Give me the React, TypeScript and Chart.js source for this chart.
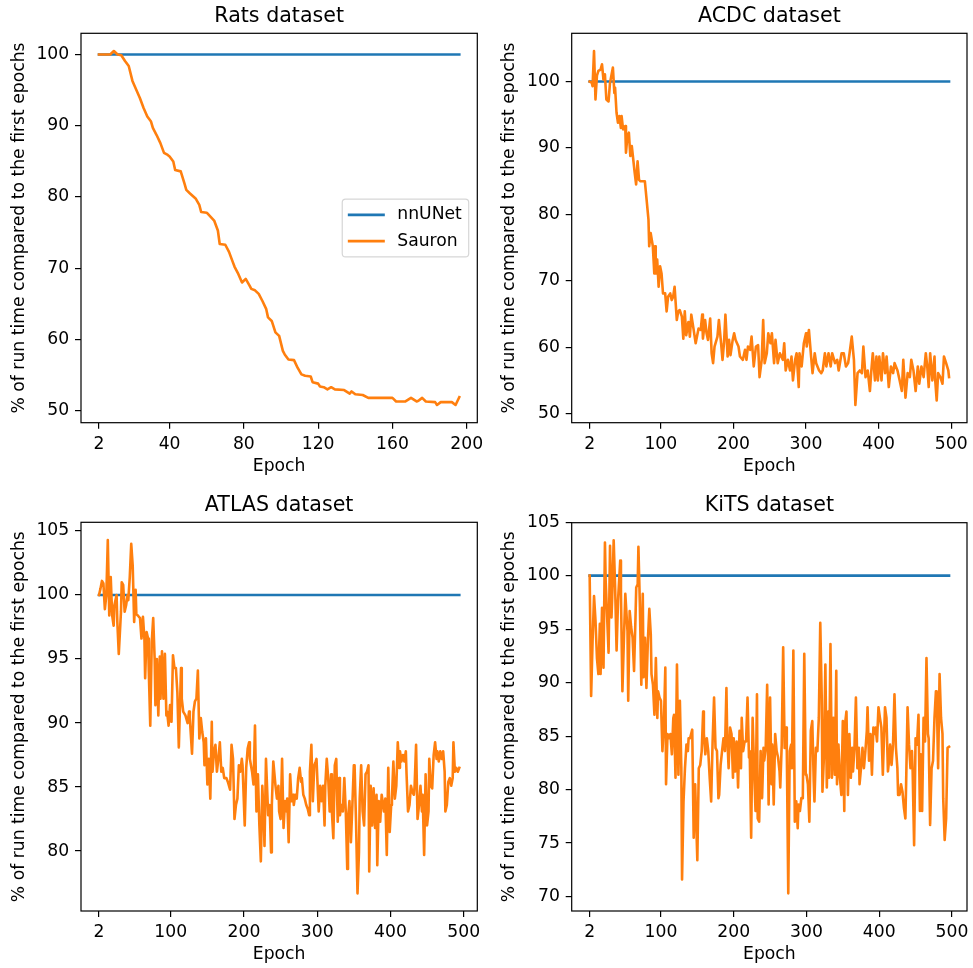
import React, { useEffect, useRef } from "react";
import { Chart, registerables } from "chart.js";

Chart.register(...registerables);

const FONT_FAMILY = "'DejaVu Sans', 'Liberation Sans', sans-serif";
const BLUE = "#1f77b4";
const ORANGE = "#ff7f0e";

// ---------- data ----------
const nnunetLevel = [100, 100];

const ratsEpochs = [2,8,10,12,14,16,18,20,22,24,26,28,30,31,33,35,37,39,40,42,43,46,48,49,51,54,56,57,60,64,66,67,70,72,74,75,77,79,81,83,84,86,88,90,92,93,95,97,99,101,102,104,107,109,111,113,116,117,120,121,123,125,127,129,134,137,138,140,144,147,160,162,167,170,173,174,176,178,183,184,186,192,194,196];
const ratsSauron = [100,100,100.5,100,99.9,99.1,98.4,96.3,95.1,93.9,92.5,91.3,90.6,89.7,88.7,87.6,86.2,85.9,85.7,85,83.8,83.6,81.9,81,80.5,79.8,78.9,77.9,77.8,76.7,75.3,73.4,73.3,72.3,70.9,70.2,69.2,68,68.5,67.6,67.1,66.9,66.4,65.4,64.3,63.1,62.6,61,60.5,58.4,57.9,57.2,57.1,56,55.1,54.9,54.8,54,53.8,53.4,53.3,53,53.3,53,52.9,52.4,52.7,52.3,52.2,51.8,51.8,51.3,51.3,51.8,51.3,51.4,51.8,51.3,51.2,50.8,51.2,51.2,50.8,51.9];
const ratsXTicks = [2, 40, 80, 120, 160, 200];
const ratsYTicks = [50, 60, 70, 80, 90, 100];

const acdcEpochs = [2,5,6,8,10,12,14,17,19,21,23,25,28,30,34,36,37,39,41,43,45,46,48,51,52,54,56,58,60,62,64,66,68,70,72,75,78,80,83,84,86,89,91,92,93,95,97,99,101,103,106,108,110,113,115,117,119,122,124,126,129,131,133,135,138,140,142,145,148,152,155,157,158,161,163,165,168,170,172,174,178,180,183,185,187,189,192,194,196,199,201,203,207,209,213,216,218,220,223,225,228,231,234,236,239,241,243,246,248,251,253,256,258,261,264,268,270,272,275,278,280,282,285,287,290,291,294,297,300,301,304,307,309,312,314,318,321,323,326,328,331,334,336,340,343,345,349,352,355,358,360,363,366,368,371,374,377,379,382,385,388,390,392,395,397,399,401,404,406,409,411,414,417,420,422,426,429,432,434,437,440,443,445,448,451,454,456,459,462,465,467,469,471,474,477,478,480,482,485,488,490,493,496,497];
const acdcSauron = [100,99.8,99.3,104.6,97.3,100.9,101.6,101.8,102.6,100.3,101.1,97.3,97,99.8,102.1,98.3,99.1,95.3,93.8,94.8,93,94.8,92.8,93.3,89.3,91.8,92.3,88.8,90.3,88.3,86.3,84.5,88,85.2,85,85,85,82.7,79.2,75.2,77.2,75.2,71.1,75.2,71.1,73.2,69.1,72.2,71.1,68.1,68.1,65.4,67.6,68.1,67.1,67.6,69.1,64.1,65.4,65.6,64.6,61.3,65.4,61.8,63.8,61.6,64.9,62.8,60.6,62.8,62.6,64.9,61.3,64.1,62.1,61.1,64.3,59.1,57.6,60.1,61.6,64.1,60.6,58.1,60.6,64.9,58.6,61.1,58.8,61.1,62.1,61.1,60.1,58.6,58.1,59.6,58.1,60.1,59.6,61.6,57.1,60.1,60.3,55.5,58.1,64.1,57.6,59.1,62.1,60.6,62.1,57.6,61.1,57.6,59.1,58.1,60.6,56.5,58.1,56.5,58.6,55,58.1,59.1,54,59.1,57.1,60.6,62.1,60.1,62.6,58.6,56.1,59.1,57.6,56.5,56.1,56.5,59.1,57.1,59.1,57.1,59.1,57.6,58.1,56.5,59.1,59.1,57.1,57.6,59.1,61.6,58.1,51.3,56.1,56.5,56.1,60.1,55.5,56.5,53.4,56.5,59.1,55,58.6,55,58.6,55,59.1,56.1,58.6,54,57.1,56.1,57.6,56.5,55,53.4,58.1,52.4,56.1,55.5,58.1,56.5,53.4,57.1,54.5,57.1,55.5,59.1,57.1,54,59.1,55,58.6,55,52,56.1,55.5,54.5,58.6,57.6,56.5,55.5];
const acdcXTicks = [2, 100, 200, 300, 400, 500];
const acdcYTicks = [50, 60, 70, 80, 90, 100];

const atlasEpochs = [2,4,6,8,10,12,14,16,18,20,22,23,26,27,29,32,33,35,37,39,41,42,44,46,48,50,52,53,55,58,60,62,64,65,67,69,70,72,74,76,78,79,81,83,85,86,88,90,92,94,95,97,99,101,103,105,107,109,111,114,115,117,120,123,125,126,129,131,133,135,137,139,141,143,145,146,148,150,152,154,156,157,159,161,163,165,167,169,171,173,176,178,181,183,185,187,189,191,193,195,197,198,201,203,205,207,208,211,213,215,217,219,221,223,225,227,228,230,233,235,237,238,240,243,245,247,248,250,252,254,256,258,259,261,263,265,267,268,270,272,274,276,278,279,281,283,285,287,289,290,292,294,296,298,299,302,304,306,308,310,311,313,315,317,319,320,322,324,326,328,330,331,333,335,337,339,341,342,344,346,348,350,351,353,355,357,358,360,362,364,366,368,370,371,373,375,377,379,381,382,384,386,388,390,391,393,395,397,399,401,402,404,406,408,410,412,413,415,417,419,421,422,424,426,428,430,432,433,435,437,439,441,443,444,446,448,450,452,453,455,457,459,461,463,464,466,468,470,472,474,475,477,479,481,483,485,486,488,490,492,494];
const atlasSauron = [100,100.5,101.1,100.9,98.9,100,104.3,98.4,101.4,98.4,97.6,99.2,100,97.9,95.4,98.7,101,100.8,98.7,99.2,100,99.6,101.4,104,102.3,97.9,100.4,98.5,98.4,98.2,96.6,98.3,96.6,93.5,97.1,96.6,94,89.8,96.3,98.2,95,91.4,95,90.6,95.2,91.9,95.6,91.9,95.4,90.6,90.9,89.8,91.4,90.1,95.3,94.3,94.3,92.4,88.1,94.3,91.9,90.9,90.6,90,90.9,90.4,87.6,90.9,91.7,91.9,94.1,88.8,90.4,89.3,88.5,86.7,88.8,85.2,87.2,84.1,90.1,86.2,87.8,88.3,86.2,87.2,88.5,86.2,86.5,85.7,85.7,85.4,84.8,88.3,87.2,82.5,83.6,84.1,86.7,86.2,87.2,86.7,82,86.5,88,88.5,87.2,86.2,85.2,89.8,83.1,86,82,79.2,85.1,82.5,80.4,87.2,82.8,83.6,79.9,83.6,87,85.1,84.1,85.1,83.1,82.5,87.2,81.8,83.9,83.1,84.1,80.7,86,83.9,84.4,83.6,84.4,84.1,85.7,86.5,85.4,85.7,84.4,84.1,83.6,83.3,82.8,86.2,88.3,83.9,86.7,87,87.2,83.1,85.1,83.9,85.1,82,85.1,87.2,85.7,83.1,86,83.1,81,86.7,87.2,82.3,85.7,82.8,83.6,83.1,85.7,83.1,78.6,82.5,83.9,80.7,83.6,86.7,86.7,82.3,76.7,79.9,84.1,86.7,83.1,82,86,86.2,86.7,78.4,85.1,82,84.9,81.8,84.4,78.9,83.9,82.3,84.4,83.6,83.1,84.1,79.7,86.5,81.5,83.6,84.1,87,84.1,85.1,88.5,86.5,87.8,87,87.5,87,87.8,86,83.1,83.6,85.1,84.6,84.4,85.1,88.3,82.5,83.6,85.1,83.1,84.4,79.7,86,82,83.1,87.2,85.1,84.9,87.5,88.5,87.2,87.8,87,87.8,87.2,87.8,86.2,83.1,83.6,85.4,85.7,85.1,85.7,88.5,86.2,86.5,86.2,86.5];
const atlasXTicks = [2, 100, 200, 300, 400, 500];
const atlasYTicks = [80, 85, 90, 95, 100, 105];

const kitsEpochs = [2,4,6,8,10,12,14,16,17,19,21,23,24,28,30,32,33,35,37,39,41,44,45,47,49,51,54,55,57,59,61,63,65,66,68,69,71,73,75,76,78,80,82,84,86,87,89,91,93,95,96,98,100,102,104,106,107,109,111,113,115,117,118,120,122,124,126,128,129,131,133,135,137,138,140,143,145,147,148,150,152,154,156,158,159,161,163,165,167,169,171,173,175,177,179,180,182,184,186,188,190,191,193,195,197,199,200,202,204,206,208,210,211,213,215,217,219,221,222,224,226,228,230,232,233,235,237,239,241,242,244,246,248,250,252,253,255,257,259,261,263,264,266,268,270,272,273,275,277,279,280,282,284,286,288,289,291,293,295,297,299,300,302,304,306,308,310,311,313,315,317,319,321,322,324,326,328,330,331,333,335,337,339,341,342,344,346,348,350,352,353,355,357,359,361,363,364,366,368,370,372,373,375,377,379,381,383,384,386,388,390,392,394,395,397,399,401,403,405,406,408,410,412,414,415,417,419,421,423,425,426,428,430,432,434,436,437,439,441,443,445,446,448,450,452,454,456,457,459,461,463,465,467,468,470,472,474,476,478,479,481,483,485,487,488,490,492,494,496];
const kitsSauron = [100,88.75,93.9,98.1,95.8,92.3,90.8,95.5,90.8,97,91.4,103.1,99.5,92.8,102.8,96.1,98,103.3,98.9,93,97.7,101.4,98.3,89.2,93.9,98.3,94.8,88.3,96.7,95.2,94.2,91.1,96.1,98.9,99.2,102.7,97.3,89.8,98.3,90.5,94.2,89.5,93.9,96.9,94.5,90.8,89.8,87,92.3,86.7,89.2,88.6,88.3,83.6,86.1,91.4,80.5,85.2,84.8,85.2,83.3,86.7,87,81.1,91.7,81.4,88.3,82,71.6,78.9,82,84.2,83.6,84.8,84.8,85.6,75.5,80.5,80.5,73.4,82,82.3,83.6,87.3,85.2,83.3,84.8,83.6,81.1,78.9,84.5,88.6,83.9,83.6,79.2,79.5,82.3,83.6,84.8,83.6,89.5,85.2,82,85.8,85.2,81.1,84.8,81.7,84.5,80.2,85.5,82,86.7,83.6,84.5,84.5,88.6,83,83.6,75.5,86.7,82,78,88.9,77.3,77,83.6,79.2,83.9,82.7,83.9,89.8,78.6,88.6,80.5,84.2,78.6,85.2,83.6,83,81.7,80.2,84.2,93.3,83.9,85.8,83.6,70.3,83.6,84.2,82,93,77,78.9,76.4,78.6,78,79.2,79.2,92.7,81.4,81.4,80.5,77,85.5,86.4,80.8,78.9,83.9,83.6,86.7,95.6,88.6,79.8,83,91.7,80.2,87.3,81.1,93.6,81.1,86.7,81.4,91.1,80.5,84.2,81.1,79.5,86.4,78,86.1,87.3,79.5,85.2,81.1,83.9,81.7,83.9,88.6,82,83.9,80.5,82,83.9,82,83.6,85.5,87.7,82.7,85.2,81.4,85.8,85.2,85.8,84.5,87.7,86.7,85.8,81.4,83.6,87.7,86.7,81.7,83,84.2,82.3,84.2,88.9,83.9,82,79.5,79.5,80.5,79.8,78.3,77.3,80.5,87.7,84.2,82,83.6,81.7,74.8,84.8,84.2,87,78,83.3,78,86.7,84.5,92.3,85.2,84.8,76.7,82,82.7,86.7,89.2,89.2,82,90.8,86.7,85.2,79.2,75.3,77.3,83.9,84];
const kitsXTicks = [2, 100, 200, 300, 400, 500];
const kitsYTicks = [70, 75, 80, 85, 90, 95, 100, 105];

const seriesNames = ["nnUNet", "Sauron"];
const xLabel = "Epoch";
const yLabel = "% of run time compared to the first epochs";

// ---------- layout (positions / styles) ----------
type Area = { l: number; r: number; t: number; b: number };
type PanelDef = {
  title: string;
  epochs: number[];
  sauron: number[];
  xTicks: number[];
  yTicks: number[];
  legend: boolean;
  left: number;
  top: number;
  w: number;
  h: number;
  area: Area;
  titleMid: number;
  yTitleMid: number;
  xTitleMid: number;
};

const panels: PanelDef[] = [
  { title: "Rats dataset", epochs: ratsEpochs, sauron: ratsSauron, xTicks: ratsXTicks, yTicks: ratsYTicks, legend: true,
    left: 0, top: 0, w: 486, h: 484, area: { l: 81, r: 477.3, t: 33.3, b: 422.7 }, titleMid: 16.5, yTitleMid: 20, xTitleMid: 466.5 },
  { title: "ACDC dataset", epochs: acdcEpochs, sauron: acdcSauron, xTicks: acdcXTicks, yTicks: acdcYTicks, legend: false,
    left: 486, top: 0, w: 487, h: 484, area: { l: 85.7, r: 481, t: 33.3, b: 422.7 }, titleMid: 16.5, yTitleMid: 23.7, xTitleMid: 466.5 },
  { title: "ATLAS dataset", epochs: atlasEpochs, sauron: atlasSauron, xTicks: atlasXTicks, yTicks: atlasYTicks, legend: false,
    left: 0, top: 484, w: 486, h: 484, area: { l: 81, r: 477.3, t: 38.3, b: 427 }, titleMid: 21.3, yTitleMid: 20, xTitleMid: 470.5 },
  { title: "KiTS dataset", epochs: kitsEpochs, sauron: kitsSauron, xTicks: kitsXTicks, yTicks: kitsYTicks, legend: false,
    left: 486, top: 484, w: 487, h: 484, area: { l: 85.7, r: 481, t: 38.7, b: 427 }, titleMid: 21.3, yTitleMid: 24, xTitleMid: 470.5 },
];

const TICK_FS = 17.2;
const TITLE_FS = 20.6;
const LINE_W = 2.6;
const SPINE_W = 1.2;
const TICK_LEN = 6;
const TICK_PAD = 5.8;

function autoLimits(values: number[]): [number, number] {
  const lo = Math.min(...values);
  const hi = Math.max(...values);
  const m = (hi - lo) * 0.05;
  return [lo - m, hi + m];
}

const framePlugin = {
  id: "mplFrame",
  afterDraw(chart: any) {
    const { ctx, chartArea: a } = chart;
    ctx.save();
    ctx.strokeStyle = "#000";
    ctx.lineWidth = SPINE_W;
    ctx.strokeRect(a.left, a.top, a.right - a.left, a.bottom - a.top);
    ctx.restore();
  },
};

const legendPlugin = {
  id: "mplLegend",
  afterDraw(chart: any, _args: any, opts: any) {
    if (!opts || !opts.display) return;
    const { ctx, chartArea: a } = chart;
    const fs = TICK_FS;
    ctx.save();
    ctx.font = `${fs}px ${FONT_FAMILY}`;
    const ds = chart.data.datasets;
    const tw = Math.max(...ds.map((d: any) => ctx.measureText(d.label).width));
    const pad = 0.4 * fs;
    const hl = 2 * fs;
    const tp = 0.8 * fs;
    const ls = 0.5 * fs;
    const rowH = 1.03 * fs;
    const w = 2 * pad + hl + tp + tw;
    const h = 2 * pad + ds.length * rowH + (ds.length - 1) * ls;
    const x = a.right - 0.5 * fs - w;
    const y = (a.top + a.bottom) / 2 - h / 2;
    const r = 0.2 * fs;
    ctx.beginPath();
    ctx.moveTo(x + r, y);
    ctx.lineTo(x + w - r, y);
    ctx.arcTo(x + w, y, x + w, y + r, r);
    ctx.lineTo(x + w, y + h - r);
    ctx.arcTo(x + w, y + h, x + w - r, y + h, r);
    ctx.lineTo(x + r, y + h);
    ctx.arcTo(x, y + h, x, y + h - r, r);
    ctx.lineTo(x, y + r);
    ctx.arcTo(x, y, x + r, y, r);
    ctx.closePath();
    ctx.fillStyle = "rgba(255,255,255,0.8)";
    ctx.fill();
    ctx.strokeStyle = "rgba(204,204,204,0.8)";
    ctx.lineWidth = SPINE_W;
    ctx.stroke();
    ds.forEach((d: any, i: number) => {
      const cy = y + pad + rowH / 2 + i * (rowH + ls);
      ctx.beginPath();
      ctx.strokeStyle = d.borderColor;
      ctx.lineWidth = LINE_W;
      ctx.lineCap = "square";
      ctx.moveTo(x + pad, cy);
      ctx.lineTo(x + pad + hl, cy);
      ctx.stroke();
      ctx.fillStyle = "#000";
      ctx.textAlign = "left";
      ctx.textBaseline = "middle";
      ctx.fillText(d.label, x + pad + hl + tp, cy);
    });
    ctx.restore();
  },
};

function Panel({ p }: { p: PanelDef }) {
  const ref = useRef<HTMLCanvasElement | null>(null);
  useEffect(() => {
    if (!ref.current) return;
    const first = p.epochs[0];
    const last = p.epochs[p.epochs.length - 1];
    const nnData = [first, last].map((e, i) => ({ x: e, y: nnunetLevel[i] }));
    const saData = p.epochs.map((e, i) => ({ x: e, y: p.sauron[i] }));
    const [xmin, xmax] = autoLimits(p.epochs);
    const [ymin, ymax] = autoLimits([...p.sauron, ...nnunetLevel]);
    const tickFont = { family: FONT_FAMILY, size: TICK_FS, weight: "normal" as const, lineHeight: 1.2 };
    const a = p.area;
    const titleHalf = (TITLE_FS * 1.2) / 2;
    const labelHalf = (TICK_FS * 1.2) / 2;

    const chart = new Chart(ref.current, {
      type: "line",
      data: {
        datasets: [
          { label: seriesNames[0], data: nnData, borderColor: BLUE, backgroundColor: BLUE, borderWidth: LINE_W, pointRadius: 0, tension: 0, order: 1, borderCapStyle: "square", borderJoinStyle: "round" },
          { label: seriesNames[1], data: saData, borderColor: ORANGE, backgroundColor: ORANGE, borderWidth: LINE_W, pointRadius: 0, tension: 0, order: 0, borderCapStyle: "square", borderJoinStyle: "round" },
        ],
      },
      options: {
        animation: false,
        responsive: false,
        devicePixelRatio: 1,
        events: [],
        layout: { padding: { left: 0, top: 0, right: p.w - a.r, bottom: 0 } },
        plugins: {
          legend: { display: false },
          tooltip: { enabled: false },
          title: {
            display: true,
            text: p.title,
            fullSize: false,
            color: "#000",
            font: { family: FONT_FAMILY, size: TITLE_FS, weight: "normal", lineHeight: 1.2 },
            padding: { top: p.titleMid - titleHalf, bottom: a.t - p.titleMid - titleHalf },
          },
          mplLegend: { display: p.legend },
        } as any,
        scales: {
          x: {
            type: "linear",
            min: xmin,
            max: xmax,
            afterBuildTicks: (s: any) => { s.ticks = p.xTicks.map((v) => ({ value: v })); },
            afterFit: (s: any) => { s.height = p.h - a.b; s.paddingLeft = 0; s.paddingRight = 0; },
            grid: { drawOnChartArea: false, drawTicks: true, tickLength: TICK_LEN, color: "#000", lineWidth: SPINE_W },
            border: { display: false },
            ticks: { color: "#000", font: tickFont, padding: TICK_PAD - 0.5, maxRotation: 0, minRotation: 0, autoSkip: false, callback: (v: any) => String(v) },
            title: { display: true, text: xLabel, color: "#000", font: tickFont, padding: { top: 0, bottom: p.h - p.xTitleMid - labelHalf } },
          },
          y: {
            type: "linear",
            min: ymin,
            max: ymax,
            afterBuildTicks: (s: any) => { s.ticks = p.yTicks.map((v) => ({ value: v })); },
            afterFit: (s: any) => { s.width = a.l; s.paddingTop = 0; s.paddingBottom = 0; },
            grid: { drawOnChartArea: false, drawTicks: true, tickLength: TICK_LEN, color: "#000", lineWidth: SPINE_W },
            border: { display: false },
            ticks: { color: "#000", font: tickFont, padding: TICK_PAD, autoSkip: false, callback: (v: any) => String(v) },
            title: { display: true, text: yLabel, color: "#000", font: tickFont, padding: { top: p.yTitleMid - labelHalf, bottom: 0 } },
          },
        },
      },
      plugins: [framePlugin, legendPlugin],
    } as any);
    return () => chart.destroy();
  }, []);
  return (
    <canvas
      ref={ref}
      width={p.w}
      height={p.h}
      style={{ position: "absolute", left: p.left, top: p.top, width: p.w, height: p.h }}
    />
  );
}

export default function App() {
  return (
    <div style={{ position: "absolute", left: 0, top: 0, width: 973, height: 968, background: "#fff", overflow: "hidden" }}>
      {panels.map((p) => (
        <Panel key={p.title} p={p} />
      ))}
    </div>
  );
}
